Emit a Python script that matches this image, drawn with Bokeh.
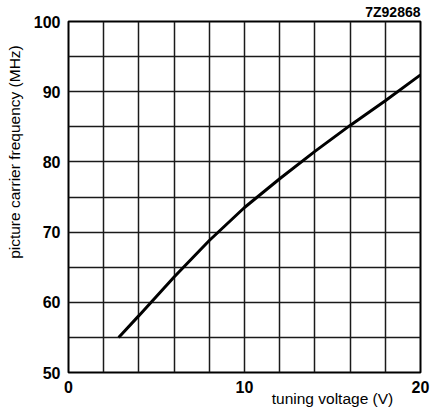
from bokeh.plotting import figure
from bokeh.models import FixedTicker, LinearAxis, Range1d
from bokeh.embed import file_html
from bokeh.resources import INLINE

# data
voltage = [2.85, 4.0, 6.0, 8.0, 10.0, 12.0, 14.0, 16.0, 18.0, 20.0]
frequency = [55.0, 58.1, 63.6, 68.8, 73.5, 77.6, 81.5, 85.2, 88.7, 92.4]
x_tick_values = [0, 10, 20]
y_tick_values = [50, 60, 70, 80, 90, 100]
x_grid_values = [0, 2, 4, 6, 8, 10, 12, 14, 16, 18, 20]
y_grid_values = [50, 55, 60, 65, 70, 75, 80, 85, 90, 95, 100]
title_text = "7Z92868"
x_label = "tuning voltage (V)"
y_label = "picture carrier frequency (MHz)"

FONT = "Liberation Sans"

p = figure(width=432, height=412, output_backend="svg", toolbar_location=None,
           x_range=Range1d(0, 20), y_range=Range1d(50, 100),
           min_border_left=68, min_border_right=12, min_border_top=21, min_border_bottom=40)
p.background_fill_color = "white"
p.border_fill_color = "white"
p.outline_line_color = "black"
p.outline_line_width = 2

p.title.text = title_text
p.title.align = "right"
p.title.text_font = FONT
p.title.text_font_style = "bold"
p.title.text_font_size = "14px"
p.title.text_color = "black"
p.title.standoff = 3

p.xaxis.ticker = FixedTicker(ticks=x_tick_values)
p.yaxis.ticker = FixedTicker(ticks=y_tick_values)
p.xgrid.ticker = FixedTicker(ticks=x_grid_values)
p.ygrid.ticker = FixedTicker(ticks=y_grid_values)
for g in (p.xgrid, p.ygrid):
    g.grid_line_color = "#1a1a1a"
    g.grid_line_width = 1.5
    g.grid_line_alpha = 1.0


def style_axis(ax, bold=True, size="16px"):
    ax.axis_line_color = None
    ax.major_tick_line_color = None
    ax.minor_tick_line_color = None
    ax.major_tick_out = 0
    ax.major_tick_in = 0
    ax.minor_tick_out = 0
    ax.minor_tick_in = 0
    ax.major_label_text_font = FONT
    ax.major_label_text_font_style = "bold" if bold else "normal"
    ax.major_label_text_font_size = size
    ax.major_label_text_color = "black"
    ax.major_label_standoff = 8


for ax in (p.xaxis[0], p.yaxis[0]):
    style_axis(ax)

# extra axes whose single tick label is the axis title, placed where the reference puts it
x_title_pos = 15.0
y_title_pos = 81.4
x_title_axis = LinearAxis(ticker=FixedTicker(ticks=[x_title_pos]),
                          major_label_overrides={x_title_pos: x_label})
y_title_axis = LinearAxis(ticker=FixedTicker(ticks=[y_title_pos]),
                          major_label_overrides={y_title_pos: y_label},
                          major_label_orientation="parallel")
for ax in (x_title_axis, y_title_axis):
    style_axis(ax, bold=False, size="15.5px")
x_title_axis.major_label_standoff = -6
y_title_axis.major_label_standoff = 7
p.add_layout(x_title_axis, "below")
p.add_layout(y_title_axis, "left")

p.line(voltage, frequency, line_color="black", line_width=3)

open("out.html", "w").write(file_html(p, INLINE))
